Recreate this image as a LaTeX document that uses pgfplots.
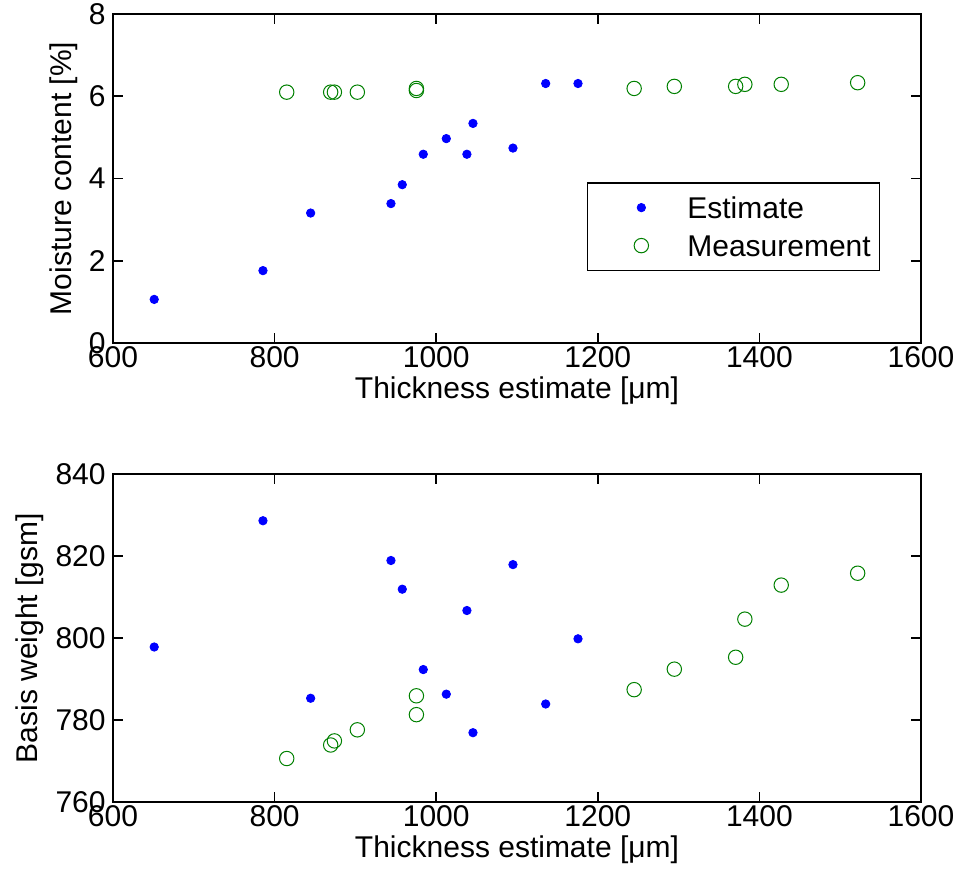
\documentclass[border=0pt]{standalone}
\usepackage{fontspec}
\setmainfont{Liberation Sans}
\usepackage{pgfplots}
\pgfplotsset{compat=1.18}
\definecolor{mblue}{rgb}{0,0,1}
\definecolor{mgreen}{rgb}{0,0.5,0}
\begin{document}
\fontsize{15pt}{18pt}\selectfont
\begin{tikzpicture}
\pgfplotsset{
  every axis/.append style={
    scale only axis, width=404pt,
    xmin=600, xmax=1600, xtick={600,800,...,1600},
    tick align=inside, major tick length=5pt,
    axis line style={line width=0.8pt},
    every tick/.style={black, line width=0.8pt},
    /pgf/number format/assume math mode=true,
    /pgf/number format/1000 sep={},
    tick label style={font=\fontsize{15pt}{18pt}\selectfont},
    xticklabel style={inner sep=1.5pt},
    yticklabel style={inner sep=3.5pt},
    label style={font=\fontsize{15pt}{18pt}\selectfont},
    xlabel style={inner sep=3pt},
    ylabel style={inner sep=2pt},
    xlabel={Thickness estimate [μm]},
  },
  est/.style={only marks, mark=*, mark size=2.1pt, color=mblue,
    mark options={line width=0.4pt},
    legend image code/.code={\path[draw=none,fill=none] (-2.5pt,-1pt) rectangle (40pt,1pt);
      \draw[mark repeat=2,mark phase=2,##1] plot coordinates {(0pt,0pt)(20pt,0pt)(40pt,0pt)};}},
  meas/.style={only marks, mark=o, mark size=3.6pt, color=mgreen,
    mark options={line width=0.5pt},
    legend image code/.code={\path[draw=none,fill=none] (-2.5pt,-1pt) rectangle (40pt,1pt);
      \draw[mark repeat=2,mark phase=2,##1] plot coordinates {(0pt,0pt)(20pt,0pt)(40pt,0pt)};}},
}
\begin{axis}[name=top, height=164.5pt,
  ymin=0, ymax=8, ytick={0,2,...,8},
  ylabel={Moisture content [\%]},
  legend cell align=left,
  legend style={at={(0.5863,0.4884)}, anchor=north west,
    draw=black, line width=0.6pt,
    inner xsep=4.5pt, inner ysep=7pt, row sep=8.3pt, column sep=3pt,
    nodes={inner sep=0pt, text height=10.7pt, text depth=0pt},
    font=\fontsize{15pt}{18pt}\selectfont}]
\addplot[est] coordinates {(651,1.06)(785.6,1.76)(844.6,3.16)(944,3.39)(958,3.85)(984,4.59)(1012.5,4.97)(1038,4.59)(1045.5,5.34)(1095,4.74)(1135.5,6.31)(1175.5,6.31)};
\addlegendentry{Estimate}
\addplot[meas] coordinates {(815,6.10)(869.4,6.10)(874,6.10)(902.4,6.10)(975.5,6.14)(975.5,6.19)(1245,6.19)(1294.7,6.24)(1370.6,6.24)(1382,6.29)(1427,6.29)(1521.6,6.33)};
\addlegendentry{Measurement}
\end{axis}
\begin{axis}[name=bot, height=164pt,
  at={(top.south west)}, anchor=north west, yshift=-65.5pt,
  ymin=760, ymax=840, ytick={760,780,...,840},
  ylabel={Basis weight [gsm]}]
\addplot[est] coordinates {(651,797.8)(785.6,828.6)(844.6,785.3)(944,818.9)(958,811.9)(984,792.3)(1012.5,786.3)(1038,806.7)(1045.5,776.9)(1095,817.9)(1135.5,783.9)(1175.5,799.8)};
\addplot[meas] coordinates {(815,770.6)(869.4,773.9)(874,774.9)(902.4,777.6)(975.5,785.9)(975.5,781.3)(1245,787.4)(1294.7,792.4)(1370.6,795.3)(1382,804.6)(1427,812.9)(1521.6,815.8)};
\end{axis}
\pgfresetboundingbox
\path ([xshift=-56.5pt,yshift=171.5pt]top.south west) rectangle ([xshift=422.5pt,yshift=-270pt]top.south west);
\end{tikzpicture}
\end{document}
